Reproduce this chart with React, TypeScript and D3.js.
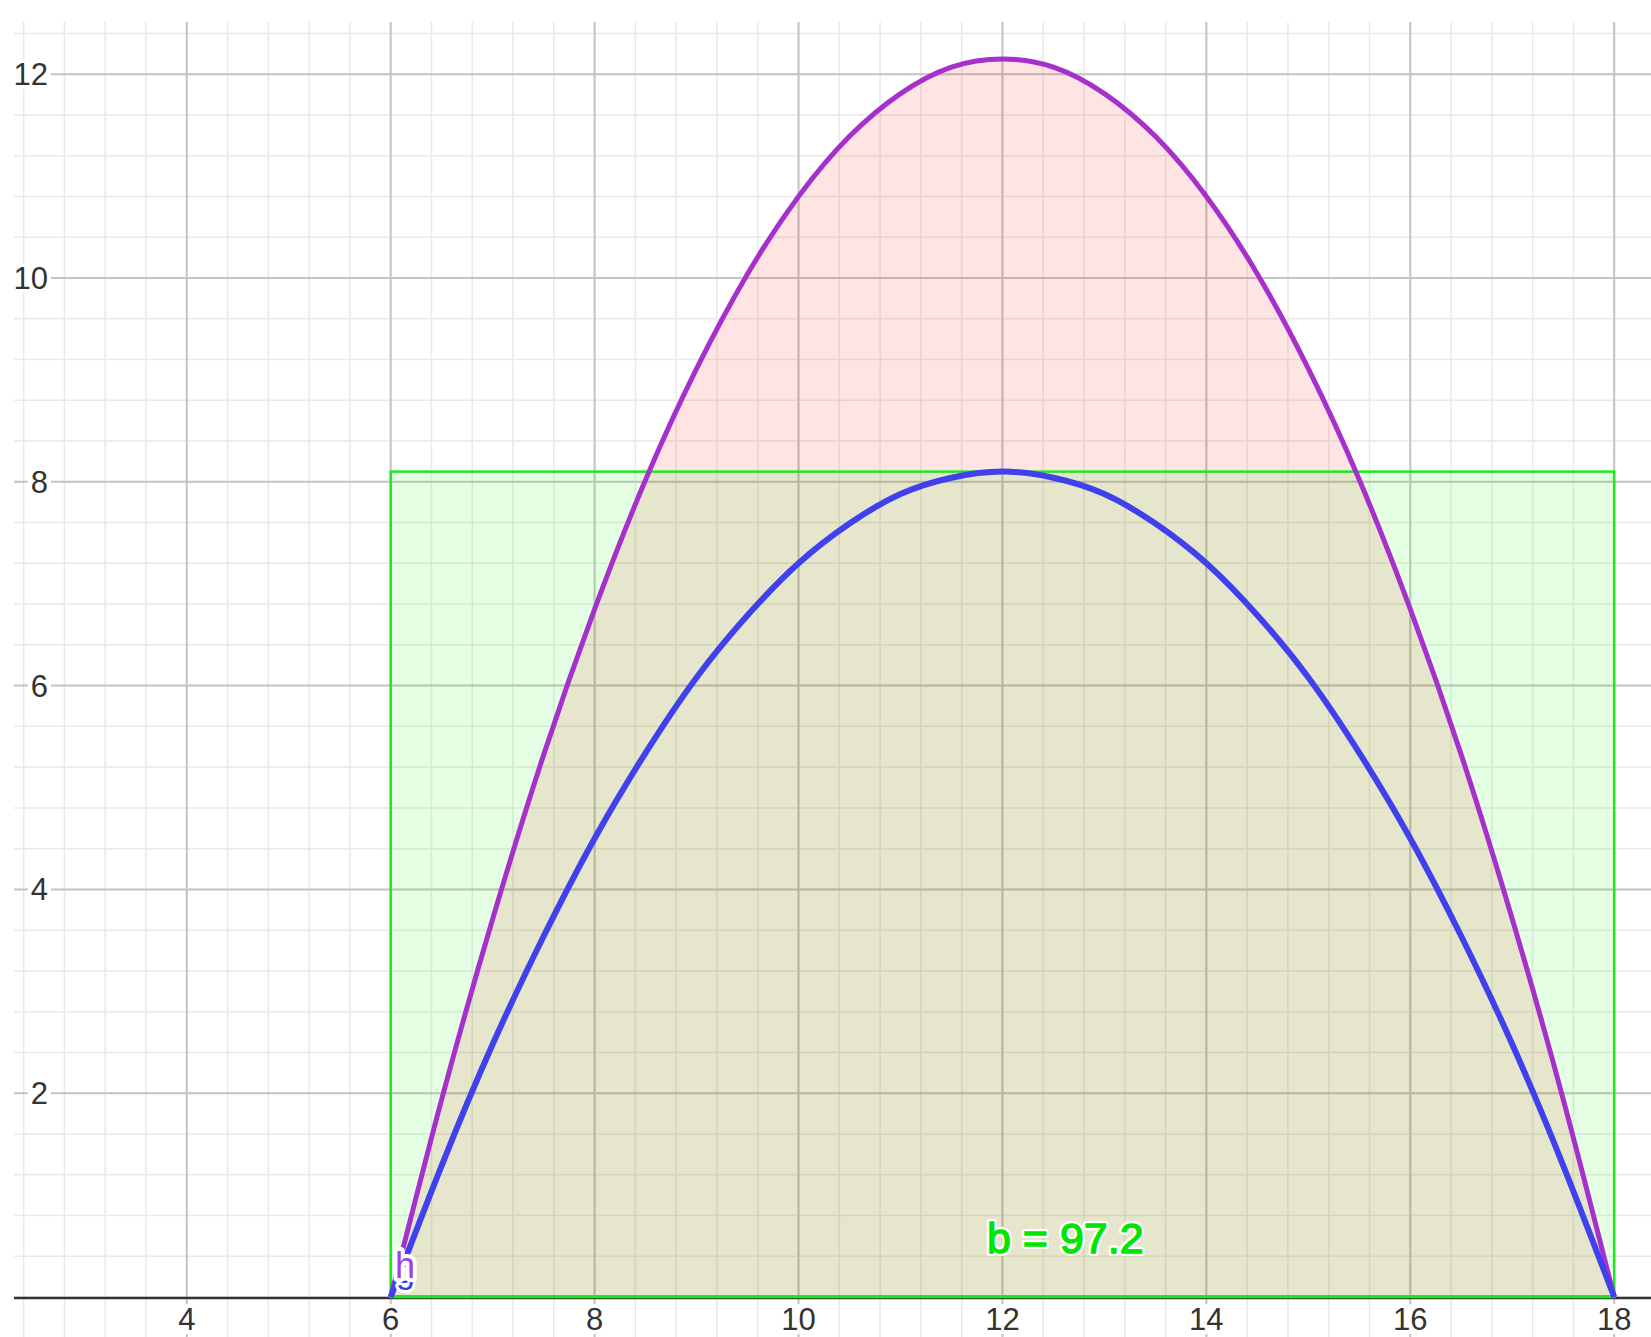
import React from "react";
import * as d3 from "d3";

// sample positions along x (every half unit) and curve heights
const xs = [6, 6.5, 7, 7.5, 8, 8.5, 9, 9.5, 10, 10.5, 11, 11.5, 12, 12.5, 13, 13.5, 14, 14.5, 15, 15.5, 16, 16.5, 17, 17.5, 18];
const hValues = [0, 1.94, 3.71, 5.32, 6.75, 8.02, 9.11, 10.04, 10.8, 11.39, 11.81, 12.07, 12.15, 12.07, 11.81, 11.39, 10.8, 10.04, 9.11, 8.02, 6.75, 5.32, 3.71, 1.94, 0];
const gValues = [0, 1.29, 2.48, 3.54, 4.5, 5.34, 6.08, 6.69, 7.2, 7.59, 7.88, 8.04, 8.1, 8.04, 7.88, 7.59, 7.2, 6.69, 6.08, 5.34, 4.5, 3.54, 2.48, 1.29, 0];

// rectangle b
const rectX = [6, 18];
const rectH = 8.1;
const rectLabel = "b = 97.2";

const xTicks = [4, 6, 8, 10, 12, 14, 16, 18];
const yTicks = [2, 4, 6, 8, 10, 12];

const W = 1651;
const H = 1337;
const left = 14;
const top = 22;

const font = "'Liberation Sans', Arial, sans-serif";

export default function App() {
  const x = d3.scaleLinear().domain([6, 18]).range([390.7, 1614.2]);
  const y = d3.scaleLinear().domain([0, 12]).range([1297, 74.2]);

  const x0 = x.invert(left);
  const x1 = x.invert(W);
  const y0 = y.invert(H);
  const y1 = y.invert(top);

  // grid: minor every 0.4, major every 2
  const minorX = d3.range(Math.ceil(x0 / 0.4), Math.floor(x1 / 0.4) + 1).map((i) => i * 0.4);
  const minorY = d3.range(Math.ceil(y0 / 0.4), Math.floor(y1 / 0.4) + 1).map((i) => i * 0.4);
  const majorX = d3.range(Math.ceil(x0 / 2), Math.floor(x1 / 2) + 1).map((i) => i * 2);
  const majorY = d3.range(Math.ceil(y0 / 2), Math.floor(y1 / 2) + 1).map((i) => i * 2).filter((v) => v !== 0);

  const pts = (vals: number[]) => xs.map((v, i) => [v, vals[i]] as [number, number]);

  const line = d3
    .line<[number, number]>()
    .x((d) => x(d[0]))
    .y((d) => y(d[1]))
    .curve(d3.curveNatural);

  const area = d3
    .area<[number, number]>()
    .x((d) => x(d[0]))
    .y0(y(0))
    .y1((d) => y(d[1]))
    .curve(d3.curveNatural);

  const fs = 31;
  const digitW = fs * 0.556;

  const halo = { stroke: "#fff", strokeLinejoin: "round" as const, style: { paintOrder: "stroke" } };

  return (
    <svg width={W} height={H} style={{ position: "absolute", left: 0, top: 0, background: "#fff" }}>
      <g>
        {minorX.map((v) => (
          <line key={"mx" + v} x1={x(v)} x2={x(v)} y1={top} y2={H} stroke="#e9e9e9" strokeWidth={1.5} />
        ))}
        {minorY.map((v) => (
          <line key={"my" + v} x1={left} x2={W} y1={y(v)} y2={y(v)} stroke="#e9e9e9" strokeWidth={1.5} />
        ))}
        {majorX.map((v) => (
          <line key={"Mx" + v} x1={x(v)} x2={x(v)} y1={top} y2={H} stroke="#c4c4c4" strokeWidth={2} />
        ))}
        {majorY.map((v) => (
          <line key={"My" + v} x1={left} x2={W} y1={y(v)} y2={y(v)} stroke="#c4c4c4" strokeWidth={2} />
        ))}
      </g>

      {/* fills */}
      <path d={area(pts(hValues)) || ""} fill="rgba(255,0,0,0.105)" stroke="none" />
      <rect
        x={x(rectX[0])}
        y={y(rectH)}
        width={x(rectX[1]) - x(rectX[0])}
        height={y(0) - y(rectH)}
        fill="rgba(0,255,0,0.1)"
      />

      {/* x axis */}
      <line x1={left} x2={W} y1={y(0) + 1} y2={y(0) + 1} stroke="#333" strokeWidth={2.5} />

      <rect
        x={x(rectX[0])}
        y={y(rectH)}
        width={x(rectX[1]) - x(rectX[0])}
        height={y(0) - y(rectH)}
        fill="none"
        stroke="#1ee81e"
        strokeWidth={2.5}
      />
      <line x1={x(rectX[0])} x2={x(rectX[1])} y1={y(0) - 0.5} y2={y(0) - 0.5} stroke="#1ee81e" strokeWidth={3} />

      {/* tick labels */}
      {yTicks.map((v) => {
        const s = String(v);
        const w = s.length * digitW;
        return (
          <g key={"yt" + v}>
            <rect x={48 - w - 3} y={y(v) - 14} width={w + 6} height={28} fill="#fff" />
            <text x={48} y={y(v) + 11} textAnchor="end" fontSize={fs} fontFamily={font} fill="#333">
              {s}
            </text>
          </g>
        );
      })}
      {xTicks.map((v) => {
        const s = String(v);
        const w = s.length * digitW;
        return (
          <g key={"xt" + v}>
            <rect x={x(v) - w / 2 - 3} y={1304} width={w + 6} height={30} fill="#fff" />
            <text x={x(v)} y={1330} textAnchor="middle" fontSize={fs} fontFamily={font} fill="#333">
              {s}
            </text>
          </g>
        );
      })}

      {/* curves */}
      <path d={line(pts(hValues)) || ""} fill="none" stroke="#a630cc" strokeWidth={5} />
      <path d={line(pts(gValues)) || ""} fill="none" stroke="#4040ec" strokeWidth={6} />

      {/* labels */}
      <text x={396} y={1283} fontSize={34} fontFamily={font} fill="#3a3af0" strokeWidth={6} {...halo}>
        g
      </text>
      <text x={395} y={1278} fontSize={36} fontFamily={font} fill="#9d40e6" strokeWidth={8} {...halo}>
        h
      </text>
      <text x={987} y={1253} fontSize={43} fontFamily={font} fill="#00e600" strokeWidth={6} {...halo}>
        {rectLabel}
      </text>
      <text x={987} y={1253} fontSize={43} fontFamily={font} fill="#00e600" stroke="#00e600" strokeWidth={1.3}>
        {rectLabel}
      </text>
    </svg>
  );
}
